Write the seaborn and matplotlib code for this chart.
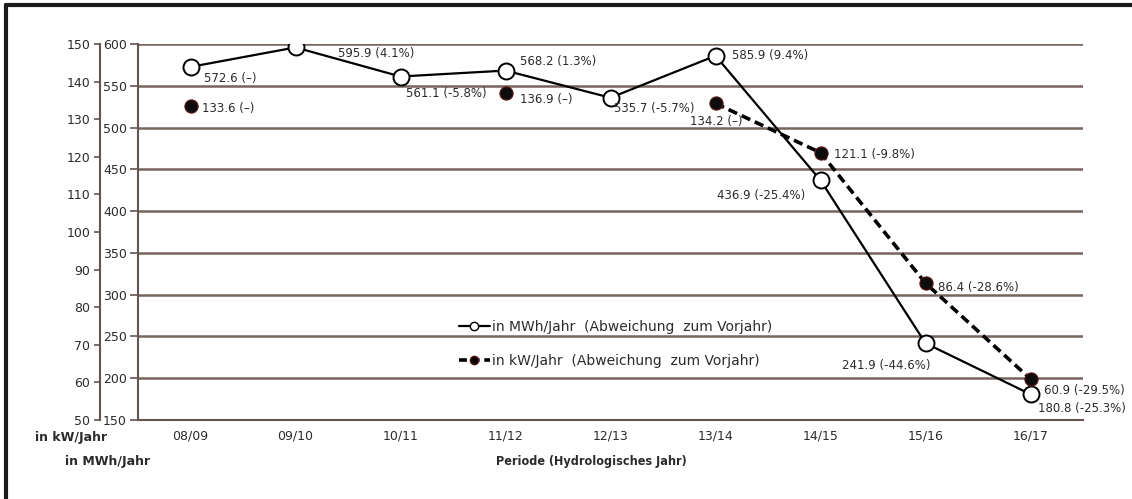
import numpy as np
import pandas as pd
import matplotlib
matplotlib.use("Agg")
import matplotlib.pyplot as plt
from matplotlib.lines import Line2D
from matplotlib.ticker import FixedLocator, NullFormatter
import seaborn as sns

# ---- data ----
periods = ["08/09", "09/10", "10/11", "11/12", "12/13", "13/14", "14/15", "15/16", "16/17"]
mwh = [572.6, 595.9, 561.1, 568.2, 535.7, 585.9, 436.9, 241.9, 180.8]
mwh_labels = ["572.6 (–)", "595.9 (4.1%)", "561.1 (-5.8%)", "568.2 (1.3%)", "535.7 (-5.7%)",
              "585.9 (9.4%)", "436.9 (-25.4%)", "241.9 (-44.6%)", "180.8 (-25.3%)"]
kw = [133.6, np.nan, np.nan, 136.9, np.nan, 134.2, 121.1, 86.4, 60.9]
kw_labels = ["133.6 (–)", "", "", "136.9 (–)", "", "134.2 (–)",
             "121.1 (-9.8%)", "86.4 (-28.6%)", "60.9 (-29.5%)"]
mwh_ticks = [150, 200, 250, 300, 350, 400, 450, 500, 550, 600]
kw_ticks = [50, 60, 70, 80, 90, 100, 110, 120, 130, 140, 150]

# label placement (offset in pixels, horizontal alignment)
mwh_offsets = [(13, -12, "left"), (43, -6, "left"), (6, -17, "left"), (15, 9, "left"),
               (3, -11, "left"), (16, 0, "left"), (-15, -15, "right"), (5, -22, "right"),
               (8, -14, "left")]
kw_offsets = [(11, -3, "left"), None, None, (14, -6, "left"), None, (-25, -18, "left"),
              (14, -2, "left"), (13, -4, "left"), (13, -11, "left")]

sns.set_style("white")
plt.rcParams["font.family"] = ["DejaVu Sans"]
plt.rcParams["font.size"] = 8.5

GRID = "#76655f"
SPINE = "#65544f"
TXT = "#2b2b2b"

df = pd.DataFrame({"period": periods, "pos": np.arange(len(periods)), "mwh": mwh, "kw": kw})
df["run"] = df["kw"].isna().cumsum()
kw_df = df.dropna(subset=["kw"])

fig = plt.figure(figsize=(11.32, 4.99), dpi=100)
W, H = 1132, 499
x0, x1, y0, y1 = 138, 1083, 44, 420
ax = fig.add_axes([x0 / W, 1 - y1 / H, (x1 - x0) / W, (y1 - y0) / H])
ax.set_facecolor("none")
ax2 = ax.twinx()

# MWh axis (inner left)
ax.set_xlim(-0.5, len(periods) - 0.5)
ax.set_ylim(150, 600)
ax.set_yticks(mwh_ticks)
ax.yaxis.grid(True, color=GRID, linewidth=1.8)
ax.set_axisbelow(True)
for s in ["top", "right"]:
    ax.spines[s].set_visible(False)
for s in ["left", "bottom"]:
    ax.spines[s].set_color(SPINE)
    ax.spines[s].set_linewidth(1.5)
ax.tick_params(axis="y", direction="out", length=6, width=1.2, color=SPINE,
               labelsize=9, labelcolor=TXT, pad=2)
ax.set_xticks(df["pos"])
ax.set_xticklabels(periods)
ax.xaxis.set_minor_locator(FixedLocator(np.arange(-0.5, len(periods), 1.0)))
ax.xaxis.set_minor_formatter(NullFormatter())
ax.tick_params(axis="x", which="major", length=0, pad=7, labelsize=9, labelcolor=TXT)
ax.tick_params(axis="x", which="minor", direction="in", length=5, width=1.2, color=SPINE)

sns.lineplot(data=df, x="pos", y="mwh", ax=ax, color="black", linewidth=1.6,
             marker="o", markersize=11.5, markerfacecolor="white", markeredgecolor="black",
             markeredgewidth=1.4, legend=False, zorder=3)

# kW axis (outer left)
ax2.set_ylim(50, 150)
ax2.set_yticks(kw_ticks)
ax2.yaxis.set_ticks_position("left")
ax2.yaxis.set_label_position("left")
ax2.spines["left"].set_position(("axes", -38 / (x1 - x0)))
for s in ["top", "right", "bottom"]:
    ax2.spines[s].set_visible(False)
ax2.spines["left"].set_color(SPINE)
ax2.spines["left"].set_linewidth(1.5)
ax2.tick_params(axis="y", direction="out", length=4, width=1.2, color=SPINE,
                labelsize=9, labelcolor=TXT, pad=3)

sns.lineplot(data=kw_df, x="pos", y="kw", units="run", estimator=None, ax=ax2,
             color="black", linewidth=2.6, dashes=False, legend=False, zorder=3)
for line in ax2.lines:
    line.set_dashes((2.6, 1.4))
sns.scatterplot(data=kw_df, x="pos", y="kw", ax=ax2, s=90, color="#0d0d0d",
                edgecolor="#5c1414", linewidth=0.8, legend=False, zorder=4)
ax.set_xlabel("")
ax.set_ylabel("")
ax2.set_xlabel("")
ax2.set_ylabel("")

for i, lab in enumerate(mwh_labels):
    dx, dy, ha = mwh_offsets[i]
    ax.annotate(lab, (i, mwh[i]), xytext=(dx, dy), textcoords="offset pixels",
                ha=ha, va="center", fontsize=8.5, color=TXT, zorder=5)
for i, lab in enumerate(kw_labels):
    if not lab:
        continue
    dx, dy, ha = kw_offsets[i]
    ax2.annotate(lab, (i, kw[i]), xytext=(dx, dy), textcoords="offset pixels",
                 ha=ha, va="center", fontsize=8.5, color=TXT, zorder=5)

# legend
handles = [
    Line2D([], [], color="black", linewidth=1.6, marker="o", markersize=6,
           markerfacecolor="white", markeredgecolor="black"),
    Line2D([], [], color="black", linewidth=2.6, dashes=(2.2, 1.3), marker="o",
           markersize=6, markerfacecolor="black", markeredgecolor="#5c1414"),
]
fig.legend(handles, ["in MWh/Jahr  (Abweichung  zum Vorjahr)",
                     "in kW/Jahr  (Abweichung  zum Vorjahr)"],
           loc="center left", bbox_to_anchor=(446 / W, 1 - 344 / H), frameon=False,
           fontsize=10, handlelength=2.3, handletextpad=0.1, labelspacing=1.45,
           labelcolor=TXT)

# axis captions below the plot
fig.text(35 / W, 1 - 438 / H, "in kW/Jahr", fontsize=9, fontweight="bold",
         color=TXT, va="center", ha="left")
fig.text(65 / W, 1 - 462 / H, "in MWh/Jahr", fontsize=9, fontweight="bold",
         color=TXT, va="center", ha="left")
fig.text(591 / W, 1 - 462 / H, "Periode (Hydrologisches Jahr)", fontsize=9,
         fontweight="bold", fontstretch="condensed", color=TXT, va="center", ha="center")

# outer frame (top and left edges)
fig.add_artist(Line2D([6 / W, 1], [1 - 5 / H, 1 - 5 / H], color="#1a1a1a", linewidth=3,
                      transform=fig.transFigure))
fig.add_artist(Line2D([6 / W, 6 / W], [0, 1 - 5 / H], color="#1a1a1a", linewidth=3,
                      transform=fig.transFigure))

fig.savefig("out.png", dpi=100, facecolor="white")
